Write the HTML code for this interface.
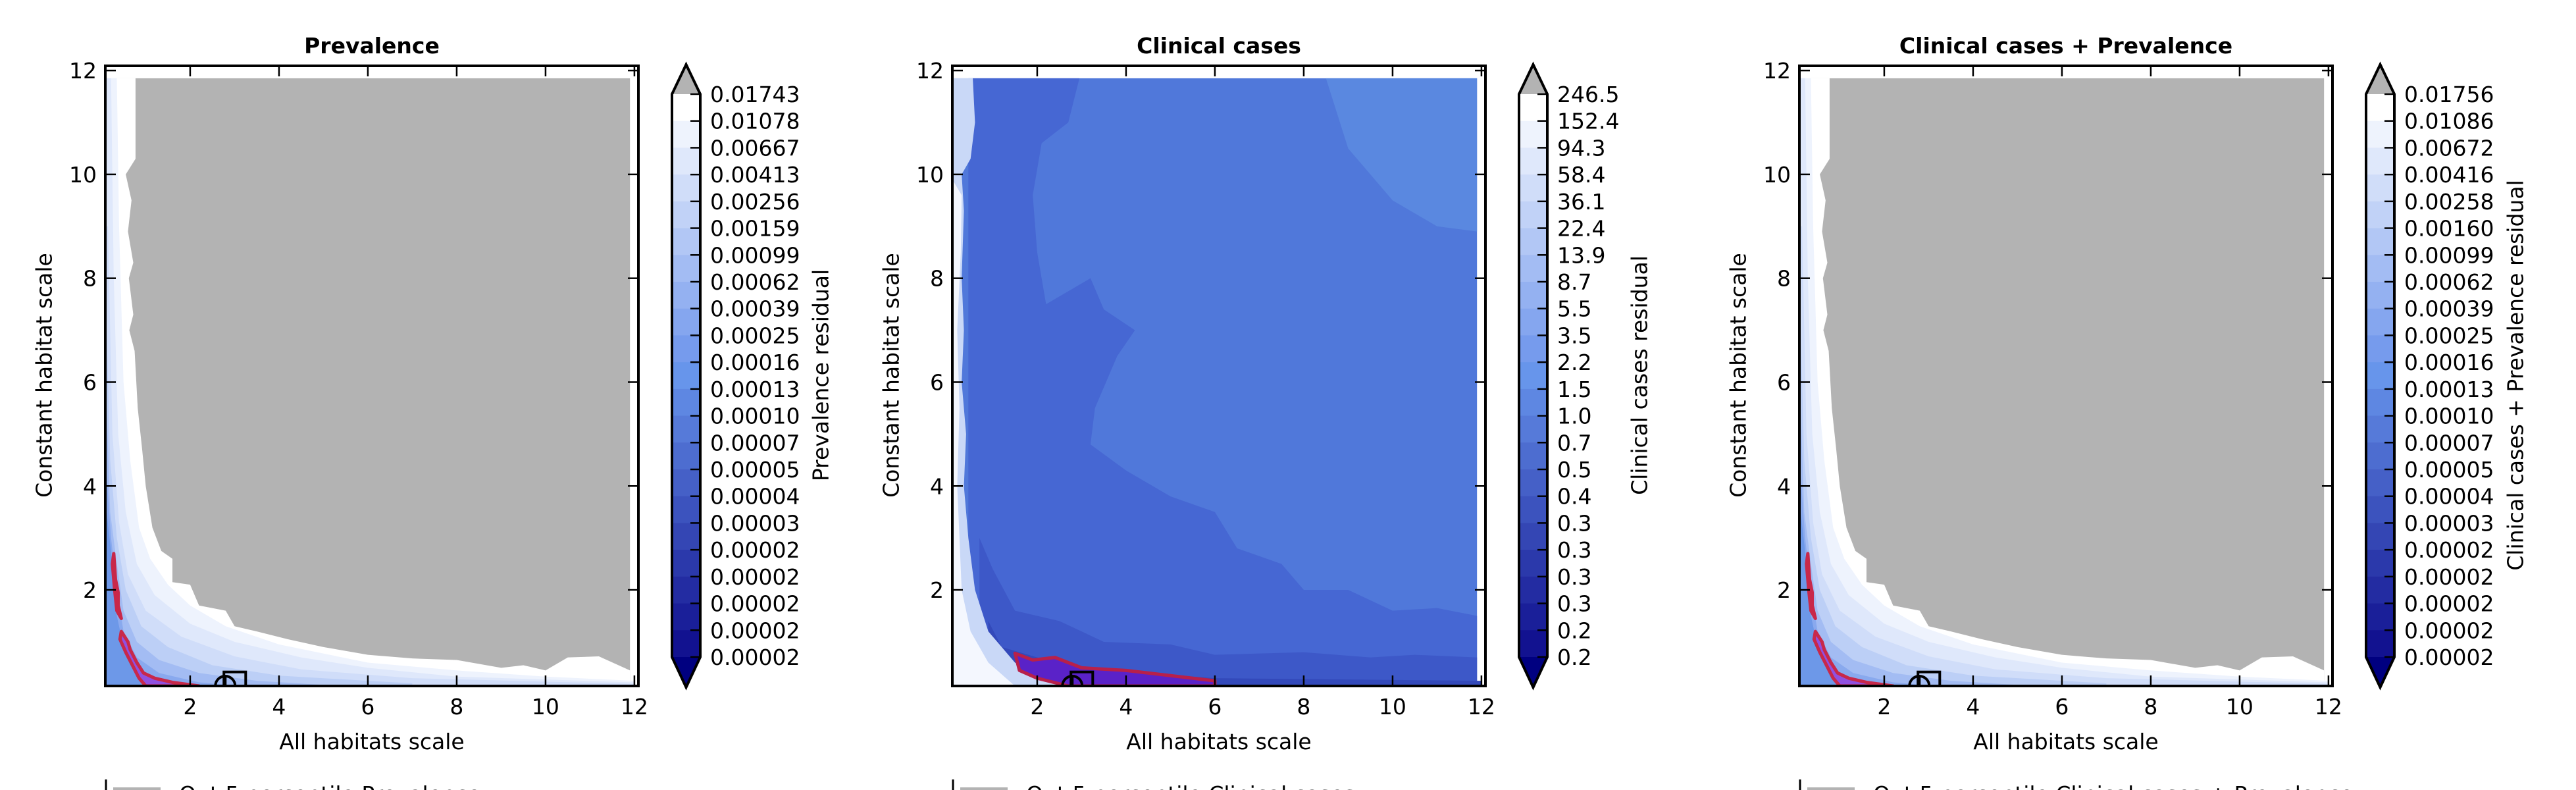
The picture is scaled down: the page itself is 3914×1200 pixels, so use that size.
<!DOCTYPE html>
<html><head><meta charset="utf-8"><style>
html,body{margin:0;padding:0;background:#fff;}
svg{display:block;font-family:"DejaVu Sans","Liberation Sans",sans-serif;}
</style></head><body>
<svg id="fig" width="3914" height="1200" viewBox="0 0 3914 1200" xmlns="http://www.w3.org/2000/svg"></svg>
<script>
// ---------- data ----------
const xTicks = [2,4,6,8,10,12];
const yTicks = [2,4,6,8,10,12];
const prevLevels = ["0.01743","0.01078","0.00667","0.00413","0.00256","0.00159","0.00099","0.00062","0.00039","0.00025","0.00016","0.00013","0.00010","0.00007","0.00005","0.00004","0.00003","0.00002","0.00002","0.00002","0.00002","0.00002"];
const clinLevels = ["246.5","152.4","94.3","58.4","36.1","22.4","13.9","8.7","5.5","3.5","2.2","1.5","1.0","0.7","0.5","0.4","0.3","0.3","0.3","0.3","0.2","0.2"];
const comboLevels = ["0.01756","0.01086","0.00672","0.00416","0.00258","0.00160","0.00099","0.00062","0.00039","0.00025","0.00016","0.00013","0.00010","0.00007","0.00005","0.00004","0.00003","0.00002","0.00002","0.00002","0.00002","0.00002"];
const bandColors = ["#ffffff","#eef3fd","#dfe8fb","#d0ddf9","#c1d2f7","#b2c7f5","#a3bcf3","#94b1f1","#85a6ef","#769bed","#6795eb","#5e87e2","#567ad9","#4d6dd0","#4560c7","#3c53be","#3446b4","#2b39ab","#232ca2","#1a1f99","#121290"];

// prevalence residual contour boundaries (data coords, outer -> inner)
const prevC0x = [0.77,0.77,0.55,0.68,0.6,0.72,0.62,0.72,0.63,0.75,0.82,0.92,1.0,1.15,1.35,1.6,1.6,2.0,2.2,2.8,3.0,3.5,4.2,5.0,6.0,7.0,8.0,9.0,9.5,10.0,10.5,11.2,11.9,11.9];
const prevC0y = [11.85,10.3,10.0,9.5,8.9,8.3,8.0,7.3,7.0,6.6,5.5,4.7,4.0,3.2,2.75,2.6,2.15,2.1,1.7,1.6,1.3,1.2,1.05,0.9,0.75,0.68,0.65,0.5,0.55,0.45,0.7,0.72,0.45,0.15];
const prevC1x = [0.35,0.4,0.5,0.65,0.85,1.1,1.5,2.0,2.8,4.0,6.0,8.0,10.0,12.0];
const prevC1y = [11.85,9.0,6.0,4.5,3.2,2.6,2.1,1.7,1.3,0.95,0.6,0.45,0.33,0.25];
const prevC2x = [0.22,0.28,0.38,0.55,0.8,1.2,2.0,3.0,4.5,6.0,8.0,12.0];
const prevC2y = [11.85,8.0,5.0,3.5,2.5,1.9,1.35,1.0,0.7,0.5,0.33,0.22];
const prevC3x = [0.15,0.25,0.4,0.6,1.0,1.8,3.0,4.5,7.0,12.0];
const prevC3y = [9.0,5.0,3.3,2.3,1.6,1.1,0.72,0.47,0.3,0.19];
const prevC4x = [0.12,0.2,0.35,0.55,0.9,1.5,2.5,4.0,7.0];
const prevC4y = [7.0,4.5,3.0,2.0,1.3,0.9,0.55,0.35,0.2];
const prevC5x = [0.12,0.2,0.35,0.5,0.8,1.3,2.2,3.5,5.0];
const prevC5y = [5.5,3.5,2.5,1.6,1.0,0.65,0.4,0.25,0.17];
const prevC6x = [0.12,0.22,0.35,0.5,0.8,1.3,2.2,3.0];
const prevC6y = [4.2,3.0,2.0,1.2,0.7,0.4,0.22,0.16];
const prevC7x = [0.12,0.25,0.35,0.5,0.8,1.2,1.8];
const prevC7y = [3.5,2.5,1.5,0.9,0.5,0.3,0.17];
const prevRedAx = [0.28,0.32,0.38,0.38,0.45,0.35,0.3,0.25];
const prevRedAy = [2.7,2.2,1.95,1.7,1.45,1.6,2.0,2.5];
const prevRedBx = [0.45,0.6,0.65,0.8,0.95,1.2,1.6,2.2,1.0,0.85,0.7,0.55,0.42];
const prevRedBy = [1.2,1.0,0.85,0.6,0.4,0.3,0.22,0.15,0.15,0.3,0.55,0.8,1.05];

// clinical cases residual regions
const clinLightX = [8.5,9.0,10.0,11.0,11.9,11.9];
const clinLightY = [11.85,10.5,9.5,9.0,8.9,11.85];
const clinDarkX = [0.45,2.95,2.7,2.1,1.9,2.0,2.2,3.2,3.5,4.2,3.8,3.3,3.2,4.0,5.0,6.0,6.5,7.5,8.0,9.0,10.0,11.0,11.9,11.9,0.45];
const clinDarkY = [11.85,11.85,11.0,10.6,9.6,8.5,7.5,8.0,7.4,7.0,6.5,5.5,4.8,4.3,3.8,3.5,2.8,2.5,2.0,2.0,1.6,1.65,1.5,0.15,0.15];
const clinDark2X = [0.7,1.0,1.5,2.5,3.5,5.0,6.0,8.0,9.5,10.5,11.9,11.9,0.7];
const clinDark2Y = [3.0,2.4,1.6,1.4,1.0,0.95,0.75,0.8,0.7,0.75,0.7,0.15,0.15];
const clinDark3X = [0.9,1.2,2.0,3.5,6.0,12.0,12.0,0.9];
const clinDark3Y = [1.4,0.9,0.7,0.45,0.3,0.25,0.15,0.15];
const clinPurpleX = [1.5,1.9,2.4,3.0,4.0,5.0,6.0,6.0,2.7,2.0,1.6];
const clinPurpleY = [0.78,0.65,0.7,0.5,0.45,0.35,0.25,0.15,0.15,0.3,0.45];
const clinEdgeX = [0.09,0.55,0.6,0.5,0.3,0.35,0.3,0.35,0.3,0.4,0.35,0.45,0.6,0.9,1.5,2.5,0.09];
const clinEdgeY = [11.85,11.85,11.0,10.3,10.0,9.3,8.0,7.0,6.0,5.0,4.0,3.0,2.0,1.2,0.6,0.15,0.15];
const clinWhiteX = [0.09,0.3,0.28,0.2,0.25,0.2,0.25,0.3,0.5,0.9,1.5,0.09];
const clinWhiteY = [9.9,9.6,8.5,7.0,5.5,4.0,3.0,2.0,1.2,0.6,0.15,0.15];

// optimum markers (data coords)
const markerSquareX = [2.76,3.25];
const markerSquareY = [0.15,0.42];
const markerCircleX = [2.79];
const markerCircleY = [0.15];

// ---------- helpers ----------
const NS="http://www.w3.org/2000/svg";
const svg=document.getElementById('fig');
function el(tag,attrs,parent,txt){const e=document.createElementNS(NS,tag);for(const k in attrs)e.setAttribute(k,attrs[k]);if(txt!==undefined)e.textContent=txt;(parent||svg).appendChild(e);return e;}
const X0=0.09, X1=12.09, Y0=0.15, Y1=12.09;
const PW=810, PH=942, TOP=100;
function makeScale(left){
  return {sx:x=>left+(x-X0)/(X1-X0)*PW, sy:y=>TOP+PH-(y-Y0)/(Y1-Y0)*PH};
}
function curvePts(s,xs,ys){return xs.map((x,i)=>s.sx(x)+','+s.sy(ys[i]));}
function underCurve(s,xs,ys){
  const pts=curvePts(s,xs,ys);
  pts.push(s.sx(xs[xs.length-1])+','+s.sy(Y0));
  pts.push(s.sx(X0)+','+s.sy(Y0));
  pts.push(s.sx(X0)+','+s.sy(ys[0]));
  return pts.join(' ');
}

function drawPanel(idx,left,title,levels,cbTitle,cbTitleX,legendText,kind){
  const s=makeScale(left);
  const g=el('g',{});
  
  
  const cid='clip'+idx;
  const defs=el('defs',{},g);
  const cp=el('clipPath',{id:cid},defs);
  el('rect',{x:left,y:TOP,width:PW,height:PH},cp);
  const plot=el('g',{'clip-path':'url(#'+cid+')'},g);
  
  
  const top=s.sy(11.85), rightX=s.sx(11.9);
  if(kind==='prev'){
    const gray=el('rect',{x:left,y:top,width:rightX-left,height:s.sy(Y0)-top,fill:'#b3b3b3'},plot);
    
    
    const cs=[[prevC0x,prevC0y],[prevC1x,prevC1y],[prevC2x,prevC2y],[prevC3x,prevC3y],[prevC4x,prevC4y],[prevC5x,prevC5y],[prevC6x,prevC6y],[prevC7x,prevC7y]];
    const cols=['#ffffff','#eef3fd','#dfe8fb','#d0ddf9','#bccff6','#a3bcf3','#89a9ee','#6d98e8'];
    cs.forEach((c,i)=>{
      const p=el('polygon',{points:underCurve(s,c[0],c[1]),fill:cols[i]},plot);
      
      
    });
    [[prevRedAx,prevRedAy],[prevRedBx,prevRedBy]].forEach((c,i)=>{
      const p=el('polygon',{points:curvePts(s,c[0],c[1]).join(' '),fill:'#9050e0',stroke:'#c8284a','stroke-width':5,'stroke-linejoin':'round'},plot);
      
      
    });
  } else {
    const base=el('rect',{x:left,y:top,width:rightX-left,height:s.sy(Y0)-top,fill:'#5078da'},plot);
    
    
    const regs=[[clinLightX,clinLightY,'#5a88e0'],[clinDarkX,clinDarkY,'#4667d3'],[clinDark2X,clinDark2Y,'#3d58c8'],[clinDark3X,clinDark3Y,'#3349ba'],[clinEdgeX,clinEdgeY,'#c9d8f7'],[clinWhiteX,clinWhiteY,'#f4f7fe']];
    regs.forEach((r,i)=>{
      const p=el('polygon',{points:curvePts(s,r[0],r[1]).join(' '),fill:r[2]},plot);
      
      
    });
    const pp=el('polygon',{points:curvePts(s,clinPurpleX,clinPurpleY).join(' '),fill:'#5a22c8',stroke:'#b8204a','stroke-width':5,'stroke-linejoin':'round'},plot);
    
    
  }
  // markers
  const sq=el('rect',{x:s.sx(markerSquareX[0]),y:s.sy(markerSquareY[1]),width:s.sx(markerSquareX[1])-s.sx(markerSquareX[0]),height:s.sy(markerSquareY[0])-s.sy(markerSquareY[1]),fill:'none',stroke:'#000','stroke-width':4},plot);
  
  
  const ci=el('circle',{cx:s.sx(markerCircleX[0]),cy:s.sy(markerCircleY[0]),r:15,fill:'none',stroke:'#000','stroke-width':4},plot);
  
  
  el('line',{x1:s.sx(markerCircleX[0]),y1:s.sy(markerCircleY[0])-15,x2:s.sx(markerCircleX[0]),y2:s.sy(markerCircleY[0]),stroke:'#000','stroke-width':4},plot);

  // axes frame
  const fr=el('rect',{x:left,y:TOP,width:PW,height:PH,fill:'none',stroke:'#000','stroke-width':4},g);
  
  
  xTicks.forEach(t=>{
    const x=s.sx(t);
    el('line',{x1:x,y1:TOP+PH,x2:x,y2:TOP+PH-16,stroke:'#000','stroke-width':2.5},g);
    el('line',{x1:x,y1:TOP,x2:x,y2:TOP+16,stroke:'#000','stroke-width':2.5},g);
    const tl=el('text',{x:x,y:TOP+PH+43,'font-size':33,'text-anchor':'middle'},g,String(t));
    
    
  });
  yTicks.forEach(t=>{
    const y=s.sy(t);
    el('line',{x1:left,y1:y,x2:left+16,y2:y,stroke:'#000','stroke-width':2.5},g);
    el('line',{x1:left+PW,y1:y,x2:left+PW-16,y2:y,stroke:'#000','stroke-width':2.5},g);
    const tl=el('text',{x:left-13,y:y+12,'font-size':33,'text-anchor':'end'},g,String(t));
    
    
  });
  const tt=el('text',{x:left+PW/2,y:81,'font-size':33,'font-weight':'bold','text-anchor':'middle'},g,title);
  
  
  const xt=el('text',{x:left+PW/2,y:1138,'font-size':33,'text-anchor':'middle'},g,'All habitats scale');
  
  
  const yx=left-93;
  const yt=el('text',{x:yx,y:570,'font-size':33,'text-anchor':'middle',transform:'rotate(-90 '+yx+' 570)','dominant-baseline':'central'},g,'Constant habitat scale');
  
  

  // colorbar
  const cbx=left+861, cbw=43, cbt=143, cbb=998;
  const cb=el('g',{},g);
  
  
  const bh=(cbb-cbt)/bandColors.length;
  bandColors.forEach((c,i)=>{
    el('rect',{x:cbx,y:cbt+i*bh,width:cbw,height:bh+0.5,fill:c},cb);
  });
  el('polygon',{points:`${cbx},${cbt} ${cbx+cbw/2},98 ${cbx+cbw},${cbt}`,fill:'#b3b3b3'},cb);
  el('polygon',{points:`${cbx},${cbb} ${cbx+cbw/2},1044 ${cbx+cbw},${cbb}`,fill:'#000080'},cb);
  el('polygon',{points:`${cbx},${cbt} ${cbx+cbw/2},98 ${cbx+cbw},${cbt} ${cbx+cbw},${cbb} ${cbx+cbw/2},1044 ${cbx},${cbb}`,fill:'none',stroke:'#000','stroke-width':4},cb);
  levels.forEach((lv,i)=>{
    const y=cbt+i*(cbb-cbt)/(levels.length-1);
    el('line',{x1:cbx+cbw-15,y1:y,x2:cbx+cbw,y2:y,stroke:'#000','stroke-width':2.5},cb);
    const lt=el('text',{x:left+919,y:y+12,'font-size':33},cb,lv);
    
    
  });
  const ct=el('text',{x:cbTitleX,y:570,'font-size':33,'text-anchor':'middle',transform:'rotate(-90 '+cbTitleX+' 570)','dominant-baseline':'central'},g,cbTitle);
  
  

  // legend (cut off)
  const lg=el('g',{},g);
  
  
  el('line',{x1:left+1,y1:1184,x2:left+1,y2:1200,stroke:'#000','stroke-width':3},lg);
  el('rect',{x:left+12,y:1196,width:72,height:10,fill:'#b3b3b3'},lg);
  const le=el('text',{x:left+112,y:1218,'font-size':33},lg,legendText);
  
  
}
drawPanel(1,160,'Prevalence',prevLevels,'Prevalence residual',1247,'Out 5 percentile Prevalence','prev');
drawPanel(2,1447,'Clinical cases',clinLevels,'Clinical cases residual',2491,'Out 5 percentile Clinical cases','clin');
drawPanel(3,2734,'Clinical cases + Prevalence',comboLevels,'Clinical cases + Prevalence residual',3822,'Out 5 percentile Clinical cases + Prevalence','prev');
</script>
</body></html>
